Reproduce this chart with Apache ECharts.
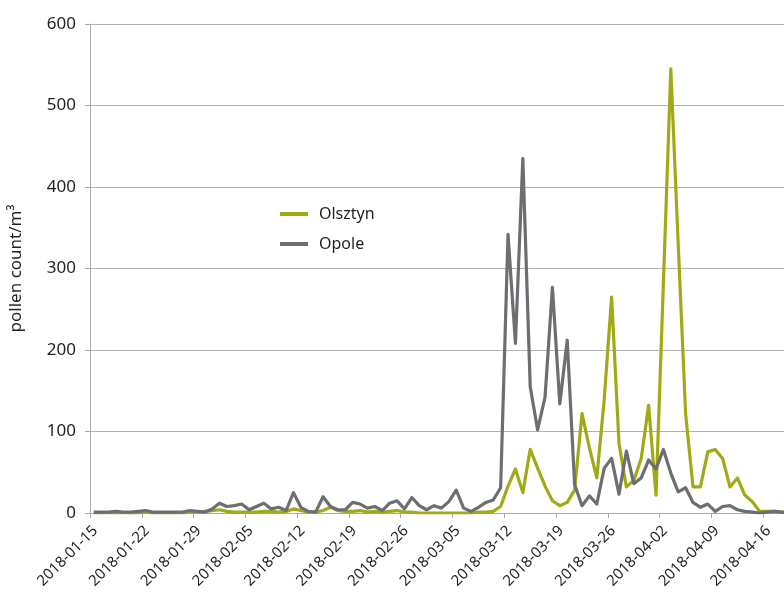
<!DOCTYPE html>
<html>
<head>
<meta charset="utf-8">
<script src="https://cdn.jsdelivr.net/npm/echarts@6/dist/echarts.min.js"></script>
<style>
  html, body { margin: 0; padding: 0; background: #fff; }
  #chart { width: 784px; height: 595px; }
</style>
</head>
<body>
<div id="chart"></div>
<script>
// ---- data ----
const startDate = '2018-01-15';
const seriesNames = ['Olsztyn', 'Opole'];
// daily pollen counts, 2018-01-15 .. 2018-04-19
const olsztyn = [
  0, 0, 0, 0, 0, 0, 0, 1, 0, 0,
  0, 0, 0, 1, 1, 2, 3, 4, 2, 1,
  1, 1, 1, 2, 2, 1, 2, 5, 3, 1,
  1, 3, 7, 3, 2, 2, 3, 1, 2, 1,
  2, 3, 1, 1, 0, 0, 0, 0, 0, 0,
  0, 0, 1, 1, 2, 8, 33, 54, 25, 78,
  55, 33, 15, 9, 13, 28, 122, 80, 43, 139,
  265, 85, 32, 40, 67, 132, 22, 282, 545, 330,
  122, 32, 32, 75, 78, 67, 32, 43, 22, 14,
  2, 2, 2, 1, 0
];
const opole = [
  1, 1, 1, 2, 1, 1, 2, 3, 1, 1,
  1, 1, 1, 3, 2, 1, 5, 12, 8, 9,
  11, 4, 8, 12, 5, 7, 3, 25, 7, 2,
  1, 20, 8, 4, 4, 13, 11, 6, 8, 3,
  12, 15, 5, 19, 9, 4, 9, 6, 14, 28,
  6, 2, 7, 13, 16, 31, 342, 208, 435, 155,
  102, 142, 277, 134, 212, 35, 9, 21, 11, 55,
  67, 23, 76, 36, 43, 65, 54, 78, 49, 26,
  31, 13, 7, 11, 2, 8, 9, 4, 2, 1,
  0, 1, 2, 1, 0
];
const yTicks = [0, 100, 200, 300, 400, 500, 600];
const colors = ['#A0AA14', '#6D6E71'];

// ---- helpers ----
const DAY = 86400000;
const [sy, sm, sd] = startDate.split('-').map(Number);
const t0 = Date.UTC(sy, sm - 1, sd);
function dayLabel(d) {
  const dt = new Date(t0 + d * DAY);
  const m = String(dt.getUTCMonth() + 1).padStart(2, '0');
  const dd = String(dt.getUTCDate()).padStart(2, '0');
  return dt.getUTCFullYear() + '-' + m + '-' + dd;
}
const dates = olsztyn.map((_, i) => dayLabel(i));
// each daily value is plotted at the middle of its day
const toPoints = vals => vals.map((v, i) => [i + 0.5, v]);

const FONT = 'Noto Sans';
const chart = echarts.init(document.getElementById('chart'), null, { renderer: 'canvas' });
chart.setOption({
  animation: false,
  textStyle: { fontFamily: FONT },
  grid: { left: 90, top: 24, right: 0, bottom: 82, containLabel: false, outerBoundsMode: 'none' },
  legend: {
    orient: 'vertical',
    left: 275,
    top: 201,
    icon: 'rect',
    itemWidth: 28,
    itemHeight: 4,
    itemGap: 14,
    textStyle: { fontFamily: FONT, fontSize: 16, color: '#231F20', padding: [0, 0, 0, 6] },
    data: seriesNames
  },
  xAxis: {
    type: 'value',
    min: 0,
    max: 93.8,
    interval: 7,
    splitLine: { show: false },
    axisLine: { show: true, lineStyle: { color: '#A7A9AC', width: 1 } },
    axisTick: { show: true, length: 5, lineStyle: { color: '#A7A9AC' } },
    axisLabel: {
      rotate: 45,
      margin: 10,
      verticalAlign: 'top',
      fontFamily: FONT,
      fontSize: 15,
      color: '#231F20',
      showMaxLabel: false,
      formatter: v => (Math.abs(v % 7) < 1e-6 ? dayLabel(v) : '')
    }
  },
  yAxis: {
    type: 'value',
    min: yTicks[0],
    max: yTicks[yTicks.length - 1],
    interval: 100,
    name: 'pollen count/m³',
    nameLocation: 'middle',
    nameGap: 65,
    nameTextStyle: { fontFamily: FONT, fontSize: 17, color: '#231F20' },
    axisLine: { show: true, lineStyle: { color: '#A7A9AC', width: 1 } },
    axisTick: { show: true, length: 5, lineStyle: { color: '#A7A9AC' } },
    splitLine: { show: true, lineStyle: { color: '#B1B3B6', width: 1 } },
    axisLabel: { margin: 14, fontFamily: FONT, fontSize: 17, color: '#231F20' }
  },
  series: [
    {
      name: seriesNames[0],
      type: 'line',
      data: toPoints(olsztyn),
      showSymbol: false,
      symbol: 'none',
      clip: true,
      itemStyle: { color: colors[0] },
      lineStyle: { color: colors[0], width: 3.2, join: 'round' }
    },
    {
      name: seriesNames[1],
      type: 'line',
      data: toPoints(opole),
      showSymbol: false,
      symbol: 'none',
      clip: true,
      itemStyle: { color: colors[1] },
      lineStyle: { color: colors[1], width: 3.2, join: 'round' }
    }
  ]
});
</script>
</body>
</html>
